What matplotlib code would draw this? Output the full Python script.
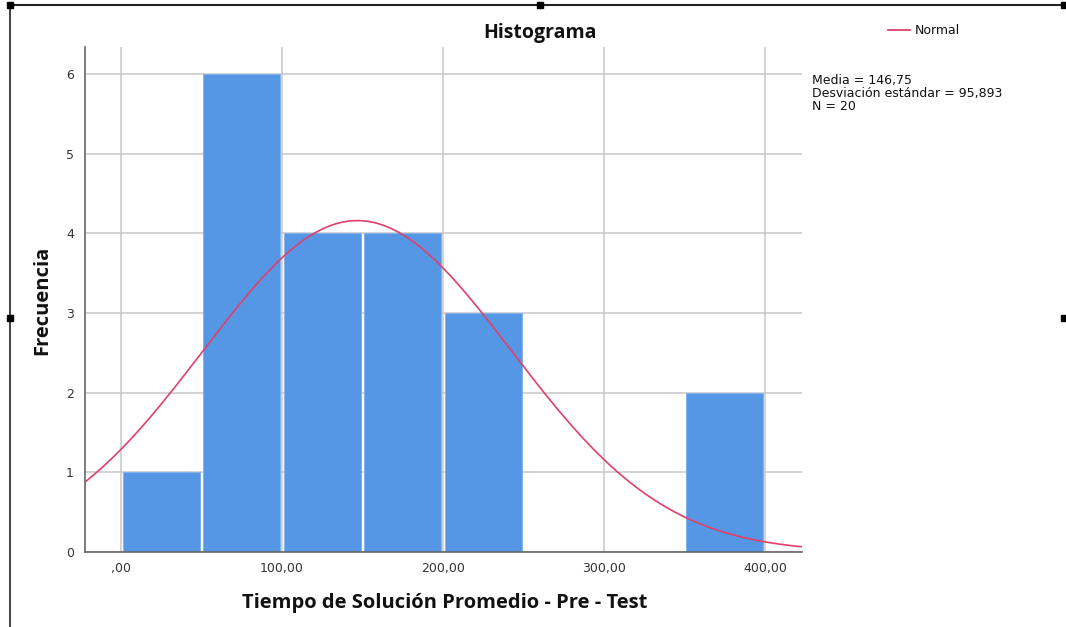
import numpy as np
import matplotlib
matplotlib.use("Agg")
import matplotlib.pyplot as plt
from matplotlib.lines import Line2D

# Data
bin_left = [0, 50, 100, 150, 200, 350]
bin_width = 50
counts = [1, 6, 4, 4, 3, 2]
mean = 146.75
sd = 95.893
n = 20
x_ticks = [0, 100, 200, 300, 400]
x_tick_labels = [",00", "100,00", "200,00", "300,00", "400,00"]
y_ticks = [0, 1, 2, 3, 4, 5, 6]

plt.rcParams['font.family'] = ['Open Sans', 'DejaVu Sans']

W, H = 1066, 627
fig = plt.figure(figsize=(W / 100, H / 100), dpi=100)
ax = fig.add_axes([85 / W, 1 - 552 / H, (802 - 85) / W, (552 - 47) / H])

bar_color = '#5596E5'
curve_color = '#E0406A'

inset = 1.2
ax.bar([b + inset for b in bin_left], counts, width=bin_width - 2 * inset,
       align='edge', color=bar_color, edgecolor='#7FB0EC', linewidth=0.6,
       zorder=2)

xs = np.linspace(-22.4, 423, 400)
ys = n * bin_width * np.exp(-0.5 * ((xs - mean) / sd) ** 2) / (sd * np.sqrt(2 * np.pi))
ax.plot(xs, ys, color=curve_color, linewidth=1.2, zorder=3)

ax.set_xlim(-22.4, 423)
ax.set_ylim(0, 6.34)
ax.set_xticks(x_ticks)
ax.set_xticklabels(x_tick_labels, family='DejaVu Sans')
ax.set_yticks(y_ticks)
ax.set_yticklabels([str(v) for v in y_ticks], family='DejaVu Sans')
ax.tick_params(length=0, labelsize=9, colors='#333333', pad=8)
ax.tick_params(axis='x', pad=7)
ax.grid(True, color='#C8C8C8', linewidth=1.1, zorder=0)
ax.set_axisbelow(True)
for s in ['top', 'right']:
    ax.spines[s].set_visible(False)
for s in ['left', 'bottom']:
    ax.spines[s].set_color('#666666')
    ax.spines[s].set_linewidth(1.2)

fig.text(540 / W, 1 - 33 / H, "Histograma", ha='center', va='center',
         fontsize=14, fontweight='bold', color='#111111')
fig.text(42 / W, 1 - 300 / H, "Frecuencia", ha='center', va='center',
         rotation=90, fontsize=14.5, fontweight='bold', color='#111111')
fig.text(445 / W, 1 - 603 / H, "Tiempo de Solución Promedio - Pre - Test",
         ha='center', va='center', fontsize=14.5, fontweight='bold', color='#111111')

fig.text(812 / W, 1 - 74 / H,
         "Media = 146,75\nDesviación estándar = 95,893\nN = 20",
         ha='left', va='top', fontsize=9, color='#111111', linespacing=1.0,
         family='DejaVu Sans')

# legend
fig.add_artist(Line2D([888 / W, 910 / W], [1 - 30 / H, 1 - 30 / H],
                      color=curve_color, linewidth=1.3))
fig.text(915 / W, 1 - 30 / H, "Normal", ha='left', va='center',
         fontsize=9, color='#111111', family='DejaVu Sans')

# frame lines and handles
fig.add_artist(Line2D([10 / W, 1.0], [1 - 5 / H, 1 - 5 / H], color='#222222', linewidth=1.5))
fig.add_artist(Line2D([10 / W, 10 / W], [1 - 5 / H, 0], color='#222222', linewidth=1.2))
for (px, py) in [(10, 5), (540, 5), (1064, 5), (10, 318), (1064, 318)]:
    fig.add_artist(Line2D([px / W], [1 - py / H], marker='s', markersize=4,
                          color='black', linestyle='none'))

fig.savefig("out.png", dpi=100)
